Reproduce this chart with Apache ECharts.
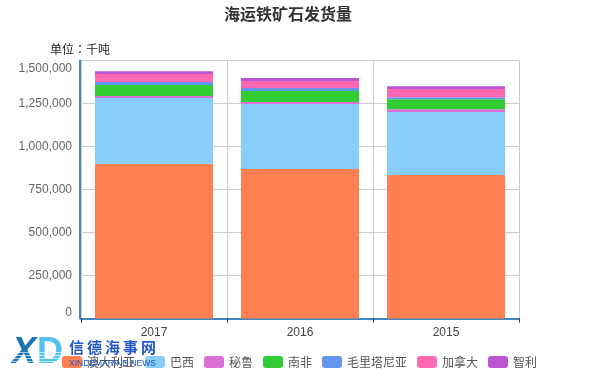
<!DOCTYPE html>
<html>
<head>
<meta charset="utf-8">
<style>html,body{margin:0;padding:0;background:#fff}#c{width:599px;height:378px}</style>
<script src="https://cdn.jsdelivr.net/npm/echarts@6/dist/echarts.min.js"></script>
</head>
<body>
<div id="c"></div>
<script>
const categories = ['2017', '2016', '2015'];
const australia = [900000, 869000, 834000];
const brazil = [382000, 378000, 366000];
const peru = [12000, 12000, 17000];
const southAfrica = [64000, 64000, 58000];
const mauritania = [17000, 17000, 12000];
const canada = [46000, 41000, 47000];
const chile = [17000, 17000, 17000];
const seriesNames = ['澳大利亚', '巴西', '秘鲁', '南非', '毛里塔尼亚', '加拿大', '智利'];
const seriesValues = [australia, brazil, peru, southAfrica, mauritania, canada, chile];
const colors = ['#FF7F50', '#87CEFA', '#DA70D6', '#32CD32', '#6495ED', '#FF69B4', '#BA55D3'];
const latin = '"Liberation Sans", Arial, "Noto Sans CJK SC", sans-serif';
const axisBlue = '#4488BB';

const logoChars = ['信', '德', '海', '事', '网'];
const logoStripes = [352, 355, 358, 361, 364];
const logo = [
  { type: 'text', left: 12, top: 335, zlevel: 1, z: 100, silent: true,
    style: { text: 'X', font: 'italic bold 36px "Liberation Sans", sans-serif', fill: '#1A75B5' } },
  { type: 'text', left: 37, top: 335, zlevel: 1, z: 100, silent: true,
    style: { text: 'D', font: 'bold 36px "Liberation Sans", sans-serif', fill: '#4FC3EC' } }
].concat(logoStripes.map(y => ({
  type: 'rect', shape: { x: 12, y: y, width: 50, height: 1 }, zlevel: 1, z: 101, silent: true,
  style: { fill: 'rgba(255,255,255,0.65)' }
}))).concat(logoChars.map((ch, i) => ({
  type: 'text', left: 69 + i * 18, top: 340, zlevel: 1, z: 102, silent: true,
  style: { text: ch, font: 'bold 15px "Noto Sans CJK SC", sans-serif', fill: '#2458C8' }
}))).concat([
  { type: 'text', left: 69, top: 359, zlevel: 1, z: 102, silent: true,
    style: { text: 'XINDEMARINE NEWS', font: '8.5px "Liberation Sans", sans-serif', fill: '#2458C8' } }
]);

const chart = echarts.init(document.getElementById('c'), null, { renderer: 'canvas' });
chart.setOption({
  animation: false,
  color: colors,
  textStyle: { fontFamily: latin },
  title: {
    text: '海运铁矿石发货量', left: 219, top: 1,
    textStyle: { fontSize: 16, fontWeight: 'bold', color: '#333', fontFamily: '"Noto Sans CJK SC", sans-serif' }
  },
  legend: {
    data: seriesNames, bottom: 5, left: 'center', itemWidth: 20, itemHeight: 12, itemGap: 10,
    textStyle: { fontSize: 12, color: '#555', fontFamily: '"Noto Sans CJK SC", sans-serif' }
  },
  grid: { left: 81, right: 80, top: 60.5, bottom: 59.5, containLabel: false },
  xAxis: {
    type: 'category', data: categories, offset: 1.5,
    axisLine: { show: true, lineStyle: { color: axisBlue, width: 2 } },
    axisTick: { show: true, length: 4, lineStyle: { color: '#333', width: 1 } },
    axisLabel: { fontSize: 12, color: '#444', margin: 7 },
    splitLine: { show: true, lineStyle: { color: '#ccc', width: 1 } }
  },
  yAxis: {
    type: 'value', min: 0, max: 1500000, interval: 250000, offset: 1,
    name: '单位：千吨', nameLocation: 'end', nameGap: 5,
    nameTextStyle: { fontSize: 12, color: '#222', align: 'right', padding: [0, -30, 0, 0], fontFamily: '"Noto Sans CJK TC", sans-serif' },
    axisLine: { show: true, lineStyle: { color: axisBlue, width: 2 } },
    axisTick: { show: false },
    axisLabel: {
      fontSize: 12, color: '#666', margin: 8, padding: [2, 0, 0, 0],
      verticalAlignMinLabel: 'bottom', verticalAlignMaxLabel: 'top',
      formatter: v => v.toLocaleString('en-US')
    },
    splitLine: { show: true, lineStyle: { color: '#ccc', width: 1 } }
  },
  series: seriesNames.map((name, i) => ({
    name, type: 'bar', stack: 'total', barWidth: 118, data: seriesValues[i]
  })),
  graphic: logo
});
</script>
</body>
</html>
